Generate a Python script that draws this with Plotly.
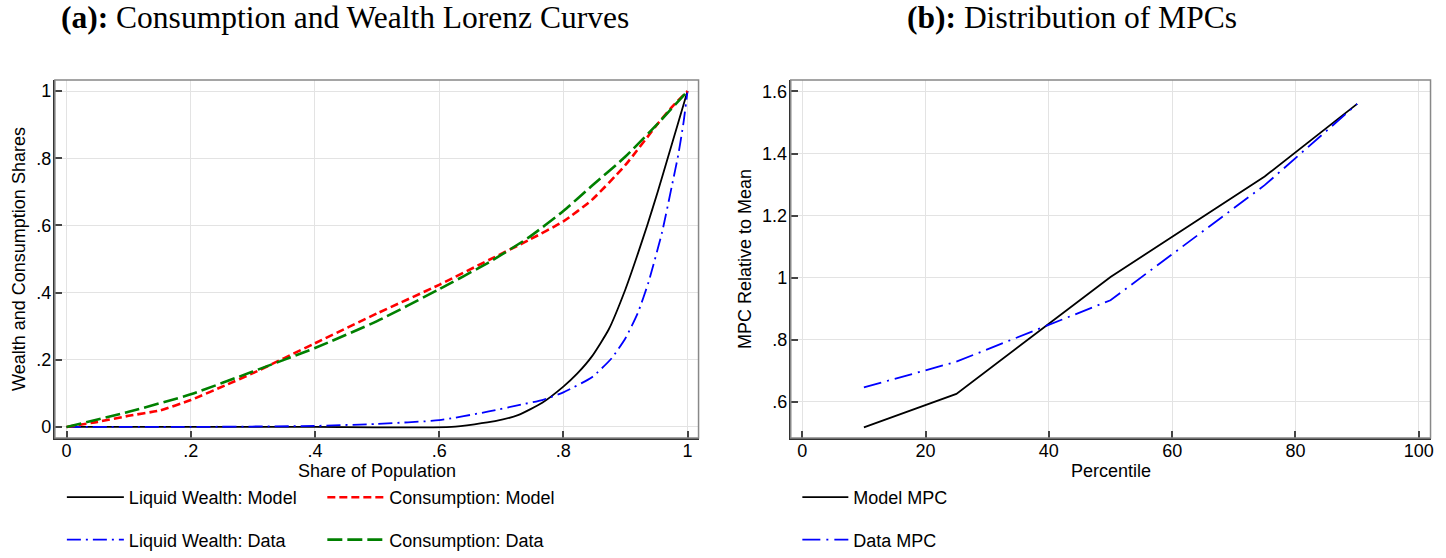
import plotly.graph_objects as go

# ---------------- data ----------------
# Panel (a): Lorenz curves (share of population -> cumulative share)
wealth_model_x = [0, 0.2, 0.4, 0.62, 0.69, 0.728, 0.766, 0.80, 0.823, 0.846, 0.873, 0.90, 0.918, 0.935, 0.952, 0.968, 0.984, 1.0]
wealth_model_y = [0, 0, 0, 0, 0.017, 0.036, 0.072, 0.12, 0.16, 0.21, 0.29, 0.41, 0.505, 0.60, 0.70, 0.80, 0.90, 1.0]

wealth_data_x = [0, 0.2, 0.4, 0.5, 0.6, 0.68, 0.728, 0.766, 0.80, 0.846, 0.878, 0.90, 0.92, 0.937, 0.959, 0.975, 0.985, 0.993, 1.0]
wealth_data_y = [0, 0.0, 0.003, 0.009, 0.02, 0.046, 0.065, 0.080, 0.103, 0.148, 0.205, 0.264, 0.34, 0.43, 0.58, 0.72, 0.81, 0.90, 1.0]

cons_model_x = [0, 0.05, 0.1, 0.15, 0.2, 0.257, 0.3, 0.4, 0.5, 0.6, 0.68, 0.745, 0.8, 0.846, 0.9, 0.953, 0.975, 1.0]
cons_model_y = [0, 0.015, 0.033, 0.049, 0.080, 0.125, 0.160, 0.249, 0.338, 0.423, 0.497, 0.557, 0.612, 0.676, 0.78, 0.905, 0.953, 1.0]

cons_data_x = [0, 0.1, 0.2, 0.3, 0.4, 0.5, 0.6, 0.68, 0.745, 0.8, 0.846, 0.9, 0.953, 1.0]
cons_data_y = [0, 0.045, 0.097, 0.165, 0.235, 0.315, 0.41, 0.49, 0.565, 0.643, 0.718, 0.805, 0.905, 1.0]

# Panel (b): MPC distribution
percentiles = [10, 25, 50, 75, 90]
model_mpc = [0.517, 0.625, 1.002, 1.326, 1.56]
data_mpc = [0.646, 0.729, 0.927, 1.298, 1.56]

lorenz_ticks = [0, 0.2, 0.4, 0.6, 0.8, 1.0]
lorenz_ticktext = ["0", ".2", ".4", ".6", ".8", "1"]
pct_ticks = [0, 20, 40, 60, 80, 100]
mpc_ticks = [0.6, 0.8, 1.0, 1.2, 1.4, 1.6]
mpc_ticktext = [".6", ".8", "1", "1.2", "1.4", "1.6"]

# ---------------- figure ----------------
W, H = 1446, 558
FONT = "Liberation Sans, Arial, sans-serif"
SERIF = "Liberation Serif, Times New Roman, serif"

fig = go.Figure()

fig.add_trace(go.Scatter(x=wealth_model_x, y=wealth_model_y, mode="lines", name="Liquid Wealth: Model",
                         line=dict(color="black", width=1.8, shape="spline", smoothing=0.5),
                         xaxis="x", yaxis="y", legend="legend", legendgroup="a1"))
fig.add_trace(go.Scatter(x=wealth_data_x, y=wealth_data_y, mode="lines", name="Liquid Wealth: Data",
                         line=dict(color="#0000ff", width=1.8, dash="14px,5px,2px,5px", shape="spline", smoothing=0.5),
                         xaxis="x", yaxis="y", legend="legend", legendgroup="a2"))
fig.add_trace(go.Scatter(x=cons_model_x, y=cons_model_y, mode="lines", name="Consumption: Model",
                         line=dict(color="#ff0000", width=2.6, dash="8px,4px", shape="spline", smoothing=0.5),
                         xaxis="x", yaxis="y", legend="legend2", legendgroup="a3"))
fig.add_trace(go.Scatter(x=cons_data_x, y=cons_data_y, mode="lines", name="Consumption: Data",
                         line=dict(color="#008000", width=2.6, dash="15px,5px", shape="spline", smoothing=0.5),
                         xaxis="x", yaxis="y", legend="legend2", legendgroup="a4"))

fig.add_trace(go.Scatter(x=percentiles, y=model_mpc, mode="lines", name="Model MPC",
                         line=dict(color="black", width=1.8),
                         xaxis="x2", yaxis="y2", legend="legend3", legendgroup="b1"))
fig.add_trace(go.Scatter(x=percentiles, y=data_mpc, mode="lines", name="Data MPC",
                         line=dict(color="#0000ff", width=1.8, dash="18px,6px,2px,6px"),
                         xaxis="x2", yaxis="y2", legend="legend3", legendgroup="b2"))

ydom = [(H - 438) / H, (H - 80) / H]
axis_common = dict(showgrid=True, gridcolor="#e3e3e3", gridwidth=1, zeroline=False,
                   showline=True, linecolor="#333333", linewidth=2,
                   ticks="inside", ticklen=7, tickcolor="#444444", tickwidth=1.5,
                   tickfont=dict(family=FONT, size=18, color="black"))

legend_common = dict(font=dict(family=FONT, size=18, color="black"), bgcolor="rgba(0,0,0,0)",
                     orientation="v", tracegroupgap=16, xanchor="left", yanchor="bottom",
                     traceorder="grouped")

title_font = dict(family=FONT, size=18, color="black")

fig.update_layout(
    width=W, height=H,
    margin=dict(l=0, r=0, t=0, b=0),
    paper_bgcolor="white", plot_bgcolor="white",
    xaxis=dict(domain=[55 / W, 700 / W], range=[-0.0188, 1.0177], anchor="y",
               tickvals=lorenz_ticks, ticktext=lorenz_ticktext, ticklabelstandoff=-5,
               **axis_common),
    yaxis=dict(domain=ydom, range=[-0.033, 1.033], anchor="x",
               tickvals=lorenz_ticks, ticktext=lorenz_ticktext, ticklabelstandoff=-2,
               title=dict(text="Wealth and Consumption Shares", font=title_font, standoff=6),
               **axis_common),
    xaxis2=dict(domain=[792.4 / W, 1433.5 / W], range=[-1.86, 101.9], anchor="y2",
                tickvals=pct_ticks, ticklabelstandoff=-5,
                **axis_common),
    yaxis2=dict(domain=ydom, range=[0.483, 1.637], anchor="x2",
                tickvals=mpc_ticks, ticktext=mpc_ticktext, ticklabelstandoff=-2,
                title=dict(text="MPC Relative to Mean", font=title_font, standoff=6),
                **axis_common),
    legend=dict(x=62 / W, y=0, itemwidth=57, **legend_common),
    legend2=dict(x=323 / W, y=0, itemwidth=57, **legend_common),
    legend3=dict(x=799 / W, y=0, itemwidth=46, **legend_common),
    showlegend=True,
)

# light frame on top/right like the original
for xr, yr in (("x domain", "y domain"), ("x2 domain", "y2 domain")):
    fig.add_shape(type="rect", xref=xr, yref=yr, x0=0, x1=1, y0=0, y1=1,
                  line=dict(color="#888888", width=1.5), layer="above")

# x-axis titles (placed close under the tick labels, as in the original)
fig.add_annotation(x=0.5, y=(H - 471) / H, xref="x domain", yref="paper", showarrow=False,
                   xanchor="center", yanchor="middle", text="Share of Population", font=title_font)
fig.add_annotation(x=0.5, y=(H - 471) / H, xref="x2 domain", yref="paper", showarrow=False,
                   xanchor="center", yanchor="middle", text="Percentile", font=title_font)

fig.add_annotation(x=346 / W, y=(H - 18) / H, xref="paper", yref="paper", showarrow=False,
                   xanchor="center", yanchor="middle",
                   text="<b>(a):</b> Consumption and Wealth Lorenz Curves",
                   font=dict(family=SERIF, size=31.5, color="black"))
fig.add_annotation(x=1074 / W, y=(H - 18) / H, xref="paper", yref="paper", showarrow=False,
                   xanchor="center", yanchor="middle",
                   text="<b>(b):</b> Distribution of MPCs",
                   font=dict(family=SERIF, size=31.5, color="black"))

fig.write_html("out.html")
